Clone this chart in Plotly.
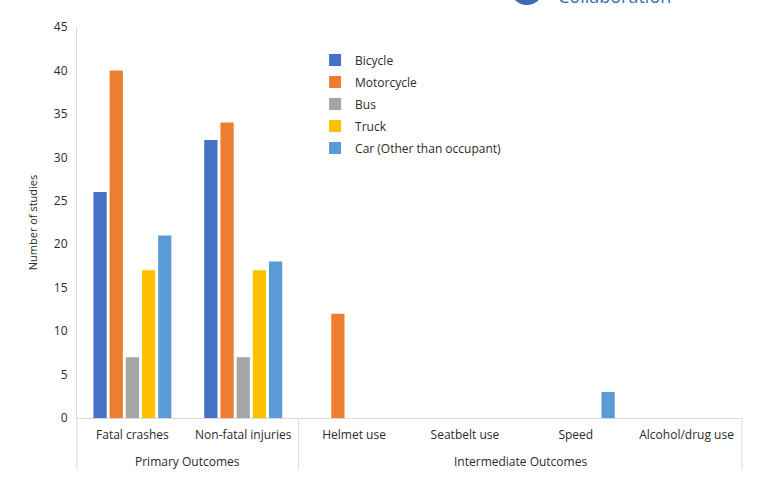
import plotly.graph_objects as go

outcomes = ["Fatal crashes", "Non-fatal injuries", "Helmet use",
            "Seatbelt use", "Speed", "Alcohol/drug use"]
group_names = ["Primary Outcomes", "Intermediate Outcomes"]
group_sizes = [2, 4]

bicycle = [26, 32, 0, 0, 0, 0]
motorcycle = [40, 34, 12, 0, 0, 0]
bus = [7, 7, 0, 0, 0, 0]
truck = [17, 17, 0, 0, 0, 0]
car = [21, 18, 0, 0, 3, 0]

series = [
    ("Bicycle", bicycle, "#4472C4"),
    ("Motorcycle", motorcycle, "#ED7D31"),
    ("Bus", bus, "#A5A5A5"),
    ("Truck", truck, "#FFC000"),
    ("Car (Other than occupant)", car, "#5B9BD5"),
]

fig = go.Figure()
for name, vals, color in series:
    # one legend group per trace so tracegroupgap spaces the entries
    fig.add_trace(go.Bar(x=outcomes, y=vals, name=name, legendgroup=name,
                         marker_color=color, marker_line_width=0))

font = "Open Sans, Noto Sans, sans-serif"
fig.update_layout(
    width=760, height=487,
    margin=dict(l=77, r=18, t=27, b=69),
    paper_bgcolor="white", plot_bgcolor="white",
    barmode="group", bargap=0.27, bargroupgap=0.18,
    font=dict(family=font, size=12, color="#2b2b2b"),
    showlegend=True,
    legend=dict(x=0.358, y=0.953, xanchor="left", yanchor="top",
                bgcolor="rgba(0,0,0,0)", font=dict(size=12),
                itemwidth=30, tracegroupgap=3),
)
fig.update_yaxes(range=[0, 45], dtick=5, showgrid=False, zeroline=False,
                 showline=True, linecolor="#d9d9d9", ticks="",
                 ticklabelstandoff=6,
                 title=dict(text="Number of studies", font=dict(size=11),
                            standoff=14),
                 tickfont=dict(size=12))
fig.update_xaxes(type="category", showgrid=False, showline=True,
                 linecolor="#d9d9d9", ticks="", ticklabelstandoff=6,
                 tickfont=dict(size=12))

# second level of the category axis: group labels and dividers
n = len(outcomes)
edges = [0]
for size in group_sizes:
    edges.append(edges[-1] + size)
for e in edges:
    fig.add_shape(type="line", xref="paper", yref="paper",
                  x0=e / n, x1=e / n, y0=0, y1=-0.133,
                  line=dict(color="#d9d9d9", width=1))
for i, gname in enumerate(group_names):
    fig.add_annotation(text=gname, xref="paper", yref="paper",
                       x=(edges[i] + edges[i + 1]) / 2 / n, y=-0.11,
                       xanchor="center", yanchor="middle", showarrow=False,
                       font=dict(size=12, color="#2b2b2b"))

# partially visible logo at the top edge
fig.add_shape(type="circle", xref="paper", yref="paper",
              x0=0.651, x1=0.702, y0=1.056, y1=1.146,
              fillcolor="#3b6db3", line_width=0, layer="above")
fig.add_annotation(text="Collaboration", xref="paper", yref="paper",
                   x=0.72, y=1.043, xanchor="left", yanchor="bottom",
                   showarrow=False,
                   font=dict(size=18, color="#3b6db3", family=font))

fig.write_html("out.html", config={"displayModeBar": False},
               post_script="document.body.style.margin='0';")
